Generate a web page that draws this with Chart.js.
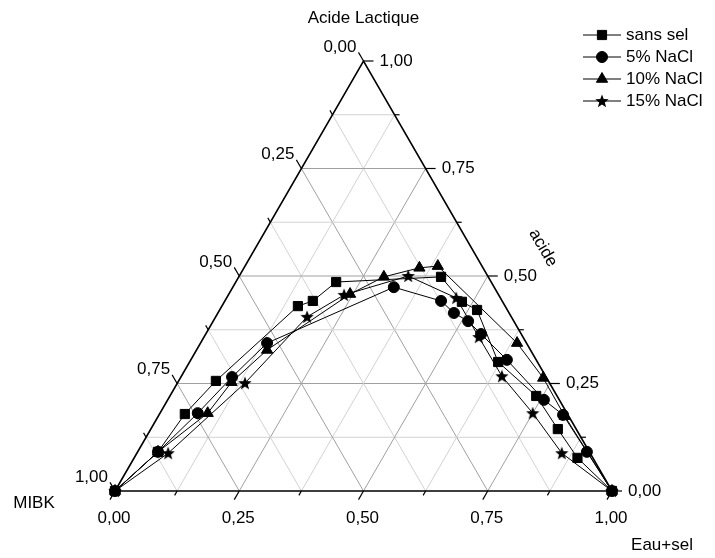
<!DOCTYPE html>
<html>
<head>
<meta charset="utf-8">
<script src="https://cdn.jsdelivr.net/npm/chart.js@4.4.1/dist/chart.umd.min.js"></script>
<style>
  body { margin: 0; background: #fff; }
  canvas { display: block; }
</style>
</head>
<body>
<canvas id="chart" width="715" height="558"></canvas>
<script>
// ternary data: eau+sel and acide fractions (MIBK = rest)
const seriesNames = ["sans sel", "5% NaCl", "10% NaCl", "15% NaCl"];

const sansSelEau   = [0, 0.041, 0.051, 0.075, 0.153, 0.177, 0.202, 0.407, 0.478, 0.518, 0.621, 0.737, 0.819, 0.892, 1];
const sansSelAcide = [0, 0.091, 0.179, 0.256, 0.430, 0.442, 0.486, 0.498, 0.440, 0.421, 0.300, 0.221, 0.144, 0.077, 0];

const nacl5Eau   = [0, 0.041, 0.076, 0.103, 0.134, 0.324, 0.435, 0.475, 0.513, 0.554, 0.636, 0.757, 0.813, 0.904, 1];
const nacl5Acide = [0, 0.091, 0.181, 0.265, 0.344, 0.474, 0.442, 0.414, 0.395, 0.365, 0.305, 0.212, 0.177, 0.091, 0];

const nacl10Eau   = [0, 0.041, 0.096, 0.108, 0.142, 0.244, 0.292, 0.353, 0.388, 0.637, 0.730, 0.818, 1];
const nacl10Acide = [0, 0.091, 0.181, 0.253, 0.328, 0.458, 0.498, 0.519, 0.523, 0.344, 0.263, 0.174, 0];

const nacl15Eau   = [0, 0.063, 0.136, 0.184, 0.233, 0.340, 0.462, 0.553, 0.645, 0.750, 0.855, 1];
const nacl15Acide = [0, 0.088, 0.251, 0.405, 0.456, 0.500, 0.449, 0.358, 0.267, 0.181, 0.088, 0];

const tickValues = [0, 0.25, 0.5, 0.75, 1];
const tickLabels = ["0,00", "0,25", "0,50", "0,75", "1,00"];

const H = Math.sqrt(3) / 2;
const FONT = '17px "Liberation Sans", Arial, sans-serif';

function toXY(eau, acide) {
  return eau.map((e, i) => ({ x: e + acide[i] / 2, y: acide[i] * H }));
}

// filled star, chart.js own "star" is only stroked
function starImage(size) {
  const c = document.createElement("canvas");
  c.width = size; c.height = size;
  const g = c.getContext("2d");
  const r = size / 2, ri = r * 0.42;
  g.beginPath();
  for (let i = 0; i < 10; i++) {
    const rr = i % 2 ? ri : r;
    const ang = -Math.PI / 2 + i * Math.PI / 5;
    g.lineTo(r + rr * Math.cos(ang), r + 0.5 + rr * Math.sin(ang));
  }
  g.closePath();
  g.fillStyle = "#000";
  g.fill();
  return c;
}
const star = starImage(14);

const markers = [
  { style: "rect", radius: 6.5 },
  { style: "circle", radius: 5.5 },
  { style: "triangle", radius: 6.5 },
  { style: star, radius: 7 },
];

const datasets = [
  toXY(sansSelEau, sansSelAcide),
  toXY(nacl5Eau, nacl5Acide),
  toXY(nacl10Eau, nacl10Acide),
  toXY(nacl15Eau, nacl15Acide),
].map((data, i) => ({
  label: seriesNames[i],
  data: data,
  showLine: true,
  borderColor: "#000",
  backgroundColor: "#000",
  borderWidth: 1,
  pointStyle: markers[i].style,
  pointRadius: markers[i].radius,
  pointBorderWidth: 1,
  clip: false,
}));

const ternary = {
  id: "ternary",
  beforeDatasetsDraw(chart) {
    const { ctx } = chart;
    const xs = chart.scales.x, ys = chart.scales.y;
    const P = (e, a) => [xs.getPixelForValue(e + a / 2), ys.getPixelForValue(a * H)];
    const seg = (p, q) => { ctx.beginPath(); ctx.moveTo(p[0], p[1]); ctx.lineTo(q[0], q[1]); ctx.stroke(); };

    ctx.save();
    // grid
    ctx.lineWidth = 1;
    for (let k = 1; k < 8; k++) {
      const v = k / 8;
      ctx.strokeStyle = k % 2 ? "#d2d2d2" : "#a0a0a0";
      seg(P(0, v), P(1 - v, v));
      seg(P(v, 0), P(v, 1 - v));
      seg(P(1 - v, 0), P(0, 1 - v));
    }

    // edges
    ctx.strokeStyle = "#000";
    ctx.lineWidth = 1.6;
    ctx.beginPath();
    const A = P(0, 0), B = P(1, 0), C = P(0, 1);
    ctx.moveTo(A[0], A[1]); ctx.lineTo(B[0], B[1]); ctx.lineTo(C[0], C[1]); ctx.closePath();
    ctx.stroke();

    // ticks
    ctx.lineWidth = 1.2;
    for (let k = 0; k <= 8; k++) {
      const v = k / 8;
      const len = k % 2 ? 5 : 10;
      let p = P(v, 0);
      seg(p, [p[0] - 0.5 * len, p[1] + H * len]);
      p = P(1 - v, v);
      seg(p, [p[0] + len, p[1]]);
      p = P(0, 1 - v);
      seg(p, [p[0] - 0.5 * len, p[1] - H * len]);
    }

    // tick labels
    ctx.fillStyle = "#000";
    ctx.font = FONT;
    ctx.textBaseline = "middle";
    tickValues.forEach((v, i) => {
      let p = P(v, 0);
      ctx.textAlign = "center";
      ctx.fillText(tickLabels[i], p[0] - 1, p[1] + 27);
      p = P(1 - v, v);
      ctx.textAlign = "left";
      ctx.fillText(tickLabels[i], p[0] + 16, p[1]);
      p = P(0, 1 - v);
      ctx.textAlign = "right";
      ctx.fillText(tickLabels[i], p[0] - 7, p[1] - 14);
    });

    // axis titles
    ctx.textAlign = "center";
    ctx.fillText("Acide Lactique", C[0], 18);
    ctx.fillText("MIBK", 34, 503);
    ctx.fillText("Eau+sel", 662, 545);
    ctx.save();
    ctx.translate(543, 248);
    ctx.rotate(Math.PI / 3);
    ctx.fillText("acide", 0, 0);
    ctx.restore();

    ctx.restore();
  },
  afterDraw(chart) {
    const { ctx } = chart;
    ctx.save();
    ctx.font = FONT;
    ctx.textAlign = "left";
    ctx.textBaseline = "middle";
    chart.data.datasets.forEach((ds, i) => {
      const y = 35 + 22 * i;
      ctx.strokeStyle = "#000";
      ctx.lineWidth = 1;
      ctx.beginPath(); ctx.moveTo(583, y); ctx.lineTo(621, y); ctx.stroke();
      ctx.fillStyle = "#000";
      Chart.helpers.drawPoint(ctx, {
        pointStyle: ds.pointStyle, radius: ds.pointRadius, rotation: 0, borderWidth: 1,
      }, 602, y);
      ctx.fillStyle = "#000";
      ctx.fillText(ds.label, 626, y);
    });
    ctx.restore();
  },
};

new Chart(document.getElementById("chart"), {
  type: "scatter",
  data: { datasets: datasets },
  options: {
    responsive: false,
    animation: false,
    devicePixelRatio: 1,
    layout: { padding: { left: 115, right: 103, top: 61, bottom: 67 } },
    scales: {
      x: { type: "linear", min: 0, max: 1, display: false },
      y: { type: "linear", min: 0, max: H, display: false },
    },
    plugins: { legend: { display: false }, tooltip: { enabled: false } },
  },
  plugins: [ternary],
});
</script>
</body>
</html>
